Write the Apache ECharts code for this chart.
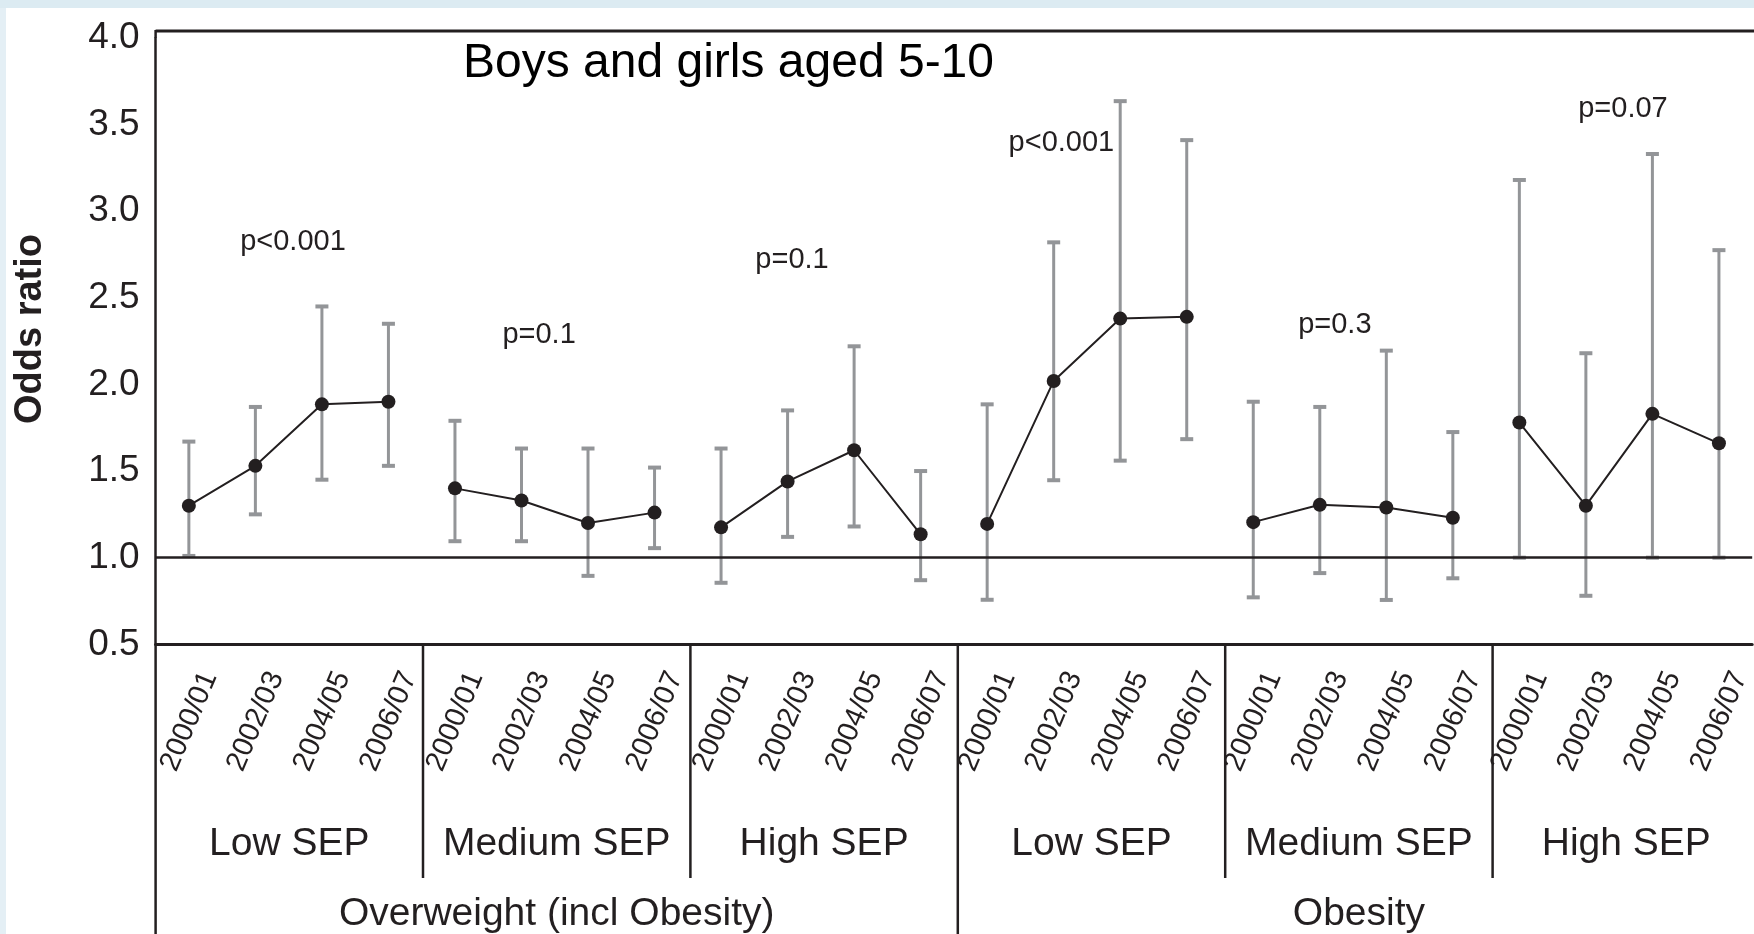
<!DOCTYPE html>
<html>
<head>
<meta charset="utf-8">
<script src="https://cdn.jsdelivr.net/npm/echarts@6/dist/echarts.min.js"></script>
<style>
  html, body { margin: 0; padding: 0; background: #ffffff; }
  #chart { width: 1754px; height: 934px; }
</style>
</head>
<body>
<div id="chart"></div>
<script>
// ---------------- data ----------------
const periods = ['2000/01', '2002/03', '2004/05', '2006/07'];
const sepGroups = ['Low SEP', 'Medium SEP', 'High SEP', 'Low SEP', 'Medium SEP', 'High SEP'];
const outcomes = ['Overweight (incl Obesity)', 'Obesity'];
const categories = [];
sepGroups.forEach(function () { periods.forEach(function (p) { categories.push(p); }); });

const oddsRatio = [1.30, 1.53, 1.885, 1.90,  1.40, 1.33, 1.20, 1.26,  1.175, 1.44, 1.62, 1.135,
                   1.195, 2.02, 2.38, 2.39,  1.205, 1.305, 1.29, 1.23,  1.78, 1.30, 1.83, 1.66];
const ciLow     = [1.01, 1.25, 1.45, 1.53,  1.095, 1.095, 0.895, 1.055,  0.855, 1.12, 1.18, 0.87,
                   0.757, 1.447, 1.56, 1.684,  0.771, 0.911, 0.756, 0.881,  1.00, 0.78, 1.00, 1.00];
const ciHigh    = [1.67, 1.87, 2.45, 2.35,  1.79, 1.63, 1.63, 1.52,  1.63, 1.85, 2.22, 1.50,
                   1.885, 2.82, 3.635, 3.41,  1.90, 1.87, 2.195, 1.725,  3.18, 2.18, 3.33, 2.775];
const yTicks = [0.5, 1.0, 1.5, 2.0, 2.5, 3.0, 3.5, 4.0];
const pValues = ['p<0.001', 'p=0.1', 'p=0.1', 'p<0.001', 'p=0.3', 'p=0.07'];
const subtitle = 'Boys and girls aged 5-10';
const yName = 'Odds ratio';

// ---------------- layout ----------------
const FONT = '"Liberation Sans", Arial, Helvetica, sans-serif';
const INK = '#231f20';
const GRAY = '#939598';
const GL = 155.6, GT = 37.9, GB = 644.3, GW = 1604.4;
const BAND = GW / categories.length;
const W = 1754, H = 934;

const chart = echarts.init(document.getElementById('chart'), null, { renderer: 'canvas' });

const lineSeries = sepGroups.map(function (g, gi) {
  return {
    type: 'line',
    name: outcomes[gi < 3 ? 0 : 1] + ' ' + g,
    data: periods.map(function (p, pi) { const i = gi * 4 + pi; return [i, oddsRatio[i]]; }),
    symbol: 'circle',
    symbolSize: 14,
    itemStyle: { color: INK },
    lineStyle: { color: INK, width: 2 },
    z: 4,
    silent: true,
    animation: false
  };
});

const errorSeries = {
  type: 'custom',
  data: categories.map(function (c, i) { return [i, ciLow[i], ciHigh[i]]; }),
  encode: { x: 0, y: [1, 2] },
  z: 3,
  silent: true,
  renderItem: function (params, api) {
    const x = api.value(0);
    const lo = api.coord([x, api.value(1)]);
    const hi = api.coord([x, api.value(2)]);
    const cw = 6.5;
    return {
      type: 'group',
      children: [
        { type: 'line', shape: { x1: lo[0], y1: lo[1], x2: hi[0], y2: hi[1] }, style: { stroke: GRAY, lineWidth: 3 } },
        { type: 'line', shape: { x1: lo[0] - cw, y1: lo[1], x2: lo[0] + cw, y2: lo[1] }, style: { stroke: GRAY, lineWidth: 4 } },
        { type: 'line', shape: { x1: hi[0] - cw, y1: hi[1], x2: hi[0] + cw, y2: hi[1] }, style: { stroke: GRAY, lineWidth: 4 } }
      ]
    };
  }
};

const refSeries = {
  type: 'line',
  data: [],
  z: 2,
  silent: true,
  markLine: {
    silent: true,
    symbol: 'none',
    label: { show: false },
    lineStyle: { color: INK, width: 2.5, type: 'solid' },
    data: [{ yAxis: 1 }],
    animation: false
  }
};

// graphic: table lines and texts
const graphics = [];
// light blue frame
graphics.push({ type: 'rect', shape: { x: 0, y: 0, width: W, height: 8 }, style: { fill: '#dcebf2' }, z: 0 });
graphics.push({ type: 'rect', shape: { x: 0, y: 8, width: 6, height: H - 8 }, style: { fill: '#e4eff5' }, z: 0 });
// top border
graphics.push({ type: 'line', shape: { x1: GL, y1: 31, x2: W, y2: 31 }, style: { stroke: INK, lineWidth: 3 }, z: 5 });
graphics.push({ type: 'line', shape: { x1: GL, y1: 30, x2: GL, y2: GT }, style: { stroke: INK, lineWidth: 2.5 }, z: 5 });
// left axis extension downwards
graphics.push({ type: 'line', shape: { x1: GL, y1: GB, x2: GL, y2: H }, style: { stroke: INK, lineWidth: 2.5 }, z: 5 });
// separators
for (let k = 1; k < sepGroups.length; k++) {
  const x = GL + BAND * 4 * k;
  const yEnd = (k === 3) ? H : 878;
  graphics.push({ type: 'line', shape: { x1: x, y1: GB, x2: x, y2: yEnd }, style: { stroke: INK, lineWidth: 2.5 }, z: 5 });
}
// SEP labels
sepGroups.forEach(function (g, gi) {
  graphics.push({
    type: 'text', x: GL + BAND * (4 * gi + 2), y: 844, z: 6,
    style: { text: g, font: '39px ' + FONT, fill: INK, textAlign: 'center', textVerticalAlign: 'middle' }
  });
});
// outcome labels
outcomes.forEach(function (o, oi) {
  graphics.push({
    type: 'text', x: GL + BAND * (12 * oi + 6), y: 914, z: 6,
    style: { text: o, font: '39px ' + FONT, fill: INK, textAlign: 'center', textVerticalAlign: 'middle' }
  });
});
// subtitle
graphics.push({
  type: 'text', x: 463, y: 64, z: 6,
  style: { text: subtitle, font: '48px ' + FONT, fill: '#000', textAlign: 'left', textVerticalAlign: 'middle' }
});
// y axis name
graphics.push({
  type: 'text', x: 31, y: 329, rotation: Math.PI / 2, z: 6,
  style: { text: yName, font: 'bold 38px ' + FONT, fill: INK, textAlign: 'center', textVerticalAlign: 'middle' }
});
// p-value labels (x in category units, y in pixels)
const pPos = [[1.555, 242], [5.237, 335], [9.02, 260], [13.05, 143], [17.14, 325], [21.45, 109]];
pValues.forEach(function (p, i) {
  graphics.push({
    type: 'text', x: GL + BAND * (pPos[i][0] + 0.5), y: pPos[i][1], z: 6,
    style: { text: p, font: '29px ' + FONT, fill: INK, textAlign: 'center', textVerticalAlign: 'middle' }
  });
});

const option = {
  animation: false,
  backgroundColor: '#ffffff',
  grid: { left: GL, top: GT, width: GW, height: GB - GT, containLabel: false },
  xAxis: {
    type: 'category',
    data: categories,
    boundaryGap: true,
    axisLine: { show: true, lineStyle: { color: INK, width: 3 } },
    axisTick: { show: false },
    splitLine: { show: false },
    axisLabel: {
      interval: 0, rotate: 67, margin: 20,
      fontFamily: FONT, fontSize: 29, color: INK,
      verticalAlign: 'top',
      padding: [8, 0, 0, 0]
    }
  },
  yAxis: {
    type: 'value',
    min: 0.5, max: 4.0, interval: 0.5,
    axisLine: { show: true, lineStyle: { color: INK, width: 2.5 } },
    axisTick: { show: false },
    splitLine: { show: false },
    axisLabel: {
      margin: 16, fontFamily: FONT, fontSize: 37, color: INK,
      padding: [0, 0, 18, 0],
      formatter: function (v) { return yTicks.indexOf(v) >= 0 ? v.toFixed(1) : ''; }
    }
  },
  graphic: graphics,
  series: [refSeries, errorSeries].concat(lineSeries)
};
chart.setOption(option);
</script>
</body>
</html>
